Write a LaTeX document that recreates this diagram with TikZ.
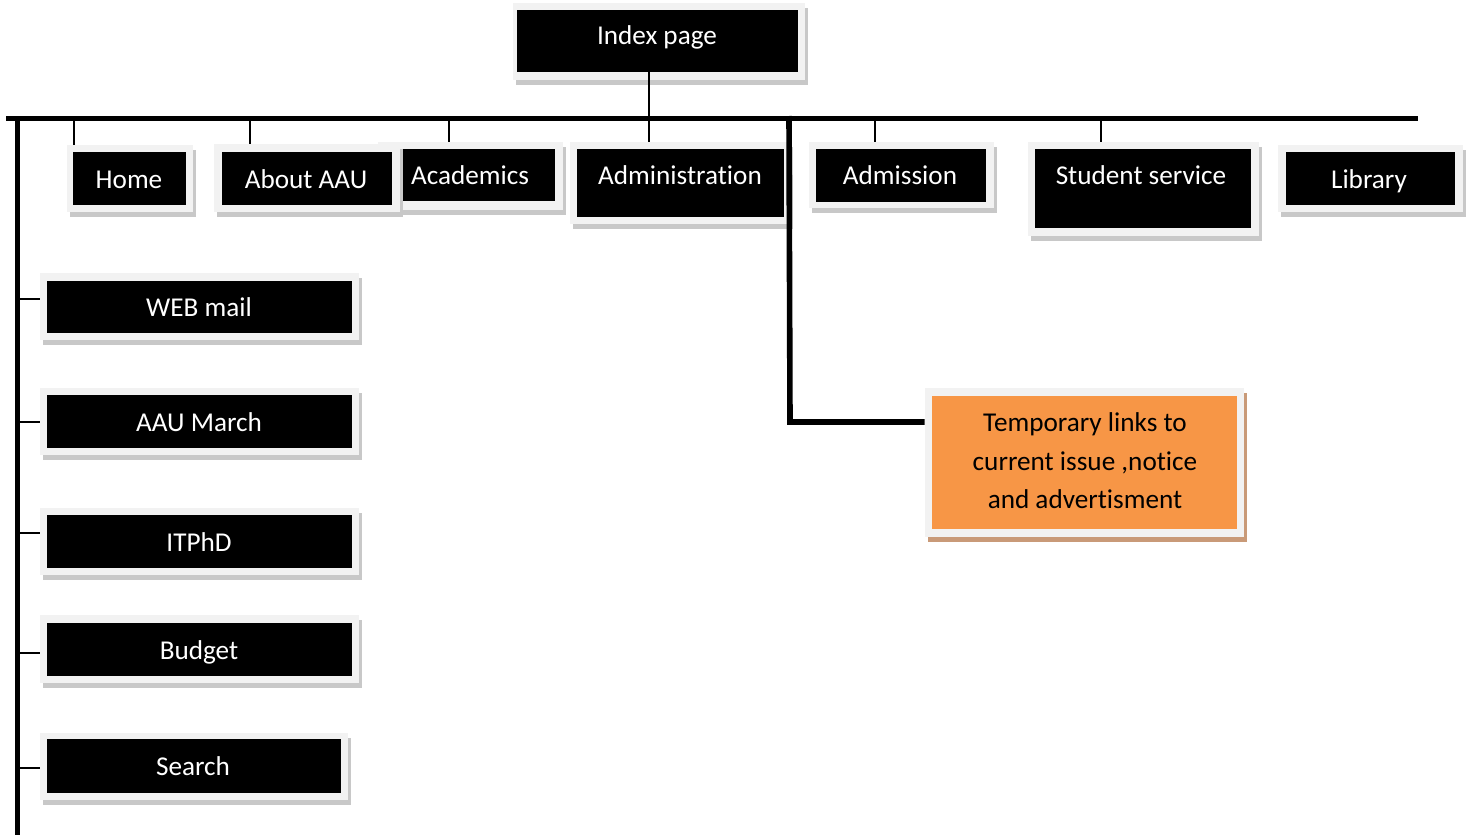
\documentclass[tikz,border=0pt]{standalone}
\usepackage{fontspec}
\setmainfont{Carlito}[Ligatures={NoCommon}]
\usetikzlibrary{fit,calc}
\definecolor{frm}{HTML}{F2F2F2}
\definecolor{shd}{HTML}{C8C8C8}
\definecolor{org}{HTML}{F79646}
\definecolor{oshd}{HTML}{C99A78}
\tikzset{
 frmbox/.style={fill=frm, draw=none, inner sep=0pt, rectangle},
 blkbox/.style={fill=black, draw=none, inner sep=0pt, rectangle},
 lbl/.style={text=white, font=\fontsize{13.6}{16}\selectfont, inner sep=0pt, text height=0.7em, text depth=0.2em, yshift=-1.5pt},
 bus/.style={line width=2.5pt},
 tick/.style={line width=1pt},
}
\newcommand{\ubox}[9]{%
 \fill[shd] (#2+3,#3+5) rectangle (#4+3,#5+5);
 \node[frmbox, fit={(#2,#3)(#4,#5)}] (#1F) {};
 \node[blkbox, fit={(#6,#7)(#8,#9)}] (#1B) {};
}
\begin{document}
\begin{tikzpicture}[x=0.5pt, y=-0.5pt]
\useasboundingbox (0,0) rectangle (1468,835);
% boxes
\ubox{index}{513}{3}{805}{80}{517}{10}{798}{72}
\ubox{home}{67}{145}{193}{212}{73}{152}{186}{205}
\ubox{acad}{378}{142}{563}{210}{400}{149}{555}{201}
\ubox{about}{214}{144}{400}{212}{222}{152}{392}{205}
\ubox{admin}{570}{142}{790}{224}{577}{149}{784}{217}
\ubox{admis}{809}{142}{994}{208}{816}{149}{986}{202}
\ubox{stud}{1028}{142}{1259}{236}{1035}{149}{1251}{228}
\ubox{lib}{1278}{145}{1463}{212}{1286}{152}{1455}{205}
\ubox{web}{40}{273}{359}{340}{47}{281}{352}{333}
\ubox{march}{40}{388}{359}{455}{47}{395}{352}{448}
\ubox{itphd}{40}{508}{359}{575}{47}{515}{352}{568}
\ubox{budget}{40}{615}{359}{683}{47}{623}{352}{676}
\ubox{search}{40}{733}{348}{800}{47}{739}{341}{793}
% orange box
\fill[oshd] (928,393) rectangle (1247,542);
\node[frmbox, fit={(925,388)(1244,537)}] (tempF) {};
\node[fill=org, draw=none, inner sep=0pt, fit={(932,396)(1237,529)}] (tempB) {};
% labels
\node[lbl] (index) at (657,37) {Index page};
\node[lbl] (home) at (129,180) {Home};
\node[lbl] (about) at (306,180) {About AAU};
\node[lbl] (acad) at (470,176) {Academics};
\node[lbl] (admin) at (680,176) {Administration};
\node[lbl] (admis) at (900,176) {Admission};
\node[lbl] (stud) at (1141,176) {Student service};
\node[lbl] (lib) at (1369,180) {Library};
\node[lbl] (web) at (199,308) {WEB mail};
\node[lbl] (march) at (199,423) {AAU March};
\node[lbl] (itphd) at (199,543) {ITPhD};
\node[lbl] (budget) at (199,651) {Budget};
\node[lbl] (search) at (193,767) {Search};
\node[font=\fontsize{13.6}{19.25}\selectfont, align=center, inner sep=0pt] (temp) at (1085,461)
 {Temporary links to\\current issue ,notice\\and advertisment};
% buses
\coordinate (busL) at (6,118);
\coordinate (busR) at (1418,118);
\draw[bus] (busL) -- (busR);
\coordinate (vbusT) at (17,116);
\coordinate (vbusB) at (17,835);
\draw[bus] (vbusT) -- (vbusB);
% ticks to top row
\coordinate (tHome) at (74,118);
\coordinate (tAbout) at (250,118);
\coordinate (tAcad) at (449,118);
\coordinate (tIdx) at (649,118);
\coordinate (tAdmis) at (875,118);
\coordinate (tStud) at (1101,118);
\draw[tick] (tHome) -- (tHome |- homeF.north);
\draw[tick] (tAbout) -- (tAbout |- aboutF.north);
\draw[tick] (tAcad) -- (tAcad |- acadF.north);
\draw[tick] (tIdx |- indexB.south) -- (tIdx |- adminF.north);
\draw[tick] (tAdmis) -- (tAdmis |- admisF.north);
\draw[tick] (tStud) -- (tStud |- studF.north);
% ticks to left column
\coordinate (lWeb) at (17,299);
\coordinate (lMarch) at (17,422);
\coordinate (lItphd) at (17,533);
\coordinate (lBudget) at (17,653);
\coordinate (lSearch) at (17,768);
\draw[tick] (lWeb) -- (lWeb -| webF.west);
\draw[tick] (lMarch) -- (lMarch -| marchF.west);
\draw[tick] (lItphd) -- (lItphd -| itphdF.west);
\draw[tick] (lBudget) -- (lBudget -| budgetF.west);
\draw[tick] (lSearch) -- (lSearch -| searchF.west);
% connector to temporary links
\coordinate (vA) at (789,116);
\coordinate (vC) at (790,422);
\draw[line width=2.8pt, line join=miter] (vA) -- (vC) -- (vC -| tempF.west);
\end{tikzpicture}
\end{document}
